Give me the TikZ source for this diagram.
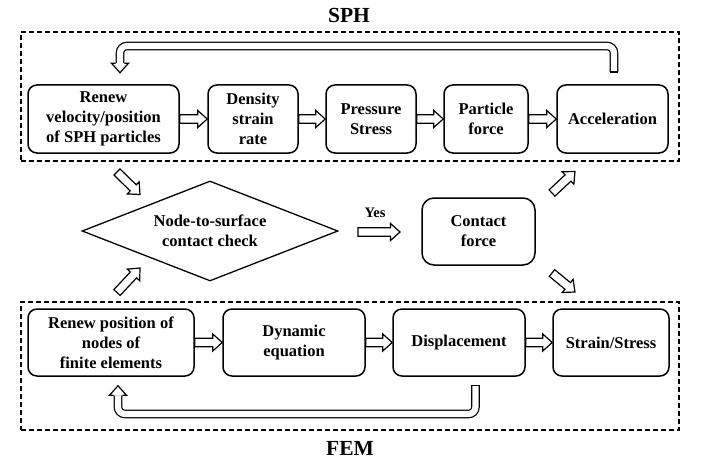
\documentclass[tikz,border=0pt]{standalone}
\usepackage{fontspec}
\setmainfont{Liberation Serif}
\usetikzlibrary{calc,shapes.geometric}
\tikzset{
  box/.style={draw, line width=1.5pt, rounded corners=9pt, align=center, inner sep=0pt,
    font=\bfseries\fontsize{16.5}{20}\selectfont},
  decision/.style={draw, diamond, line width=1.3pt, align=center, inner sep=0pt, aspect=2.56,
    font=\bfseries\fontsize{16.5}{20}\selectfont},
  groupbox/.style={draw, line width=1.3pt, dash pattern=on 5pt off 3pt, inner sep=0pt},
  title/.style={font=\bfseries\fontsize{21.5}{24}\selectfont, inner sep=0pt},
  lbl/.style={font=\bfseries\fontsize{14.5}{17}\selectfont, inner sep=0pt},
  arrowline/.style={line width=1.2pt, fill=white, line join=miter},
  loopline/.style={double=white, double distance=6.2pt, line width=1.2pt, rounded corners=7pt},
}
% hollow block arrow from #1 (tail) to #2 (tip)
\newcommand\hollowarrow[2]{%
  \draw[arrowline] let \p1=(#1), \p2=(#2),
     \n1={atan2(\y2-\y1,\x2-\x1)}, \n2={veclen(\x2-\x1,\y2-\y1)} in
     [shift={(\p1)}, rotate=\n1]
     (0,-4.3) -- (\n2-9.5,-4.3) -- (\n2-9.5,-8.5) -- (\n2,0) -- (\n2-9.5,8.5)
     -- (\n2-9.5,4.3) -- (0,4.3) -- cycle;}
\begin{document}
\begin{tikzpicture}[x=1pt,y=-1pt]
\useasboundingbox (0,0) rectangle (702,460);

% group frames and titles
\node[groupbox, minimum width=658, minimum height=129] (sph) at (350,96.5) {};
\node[groupbox, minimum width=658, minimum height=128] (fem) at (350,366) {};
\node[title] (sphT) at (349,15) {SPH};
\node[title] (femT) at (350,448) {FEM};

% SPH row
\node[box, minimum width=151, minimum height=68] (s1) at (103.5,119) {Renew\\velocity/position\\of SPH particles};
\node[box, minimum width=90, minimum height=68] (s2) at (253,119) {Density\\strain\\rate};
\node[box, minimum width=90, minimum height=68] (s3) at (371,119) {Pressure\\Stress};
\node[box, minimum width=84, minimum height=68] (s4) at (486,119) {Particle\\force};
\node[box, minimum width=111, minimum height=68] (s5) at (612.5,119) {Acceleration};

% FEM row
\node[box, minimum width=166, minimum height=67] (f1) at (111,342.5) {Renew position of\\nodes of\\finite elements};
\node[box, minimum width=142, minimum height=67] (f2) at (294,342.5) {Dynamic\\equation};
\node[box, minimum width=132, minimum height=67] (f3) at (459,342.5) {Displacement};
\node[box, minimum width=116, minimum height=67] (f4) at (611,342.5) {Strain/Stress};

% middle
\node[decision, minimum width=256, minimum height=100] (chk) at (210,231) {Node-to-surface\\contact check};
\node[box, rounded corners=12pt, minimum width=113, minimum height=67] (cf) at (478.5,231.5) {Contact\\force};
\node[lbl] (yes) at (375,213) {Yes};

% arrows inside rows
\hollowarrow{s1.east}{s2.west}
\hollowarrow{s2.east}{s3.west}
\hollowarrow{s3.east}{s4.west}
\hollowarrow{s4.east}{s5.west}
\hollowarrow{f1.east}{f2.west}
\hollowarrow{f2.east}{f3.west}
\hollowarrow{f3.east}{f4.west}

% diagonal and Yes arrows
\coordinate (d1s) at (117,172);   \coordinate (d1e) at (140,194.5);
\coordinate (d2s) at (117,292.5); \coordinate (d2e) at (140,268);
\coordinate (d3s) at (552,193);   \coordinate (d3e) at (575,171.5);
\coordinate (d4s) at (552,273);   \coordinate (d4e) at (575,292);
\coordinate (ys) at (358,232);    \coordinate (ye) at (400,232);
\hollowarrow{d1s}{d1e}
\hollowarrow{d2s}{d2e}
\hollowarrow{d3s}{d3e}
\hollowarrow{d4s}{d4e}
\hollowarrow{ys}{ye}

% SPH loop: Acceleration back to Renew velocity/position
\coordinate (t1s) at ($(s5.north)+(1.5,-12.3)$);
\coordinate (t1tip) at ($(s1.north)+(16.5,-11.5)$);
\coordinate (t1b) at ($(t1tip)+(0,-9.5)$);
\draw[loopline] (t1s) -- (t1s |- 0,46) -- (t1b |- 0,46) -- (t1b);
\draw[line width=1.2pt] ($(t1s)+(-4.3,0)$) -- ($(t1s)+(4.3,0)$);
\draw[arrowline] ($(t1b)+(-4.3,0)$) -- ($(t1b)+(-8.5,0)$) -- (t1tip) -- ($(t1b)+(8.5,0)$) -- ($(t1b)+(4.3,0)$);

% FEM loop: Displacement back to Renew position
\coordinate (t2s) at ($(f3.south)+(16.5,9)$);
\coordinate (t2tip) at ($(f1.south)+(7,9)$);
\coordinate (t2b) at ($(t2tip)+(0,9.5)$);
\draw[loopline] (t2s) -- (t2s |- 0,414) -- (t2b |- 0,414) -- (t2b);
\draw[line width=1.2pt] ($(t2s)+(-4.3,0)$) -- ($(t2s)+(4.3,0)$);
\draw[arrowline] ($(t2b)+(-4.3,0)$) -- ($(t2b)+(-8.5,0)$) -- (t2tip) -- ($(t2b)+(8.5,0)$) -- ($(t2b)+(4.3,0)$);
\end{tikzpicture}
\end{document}
